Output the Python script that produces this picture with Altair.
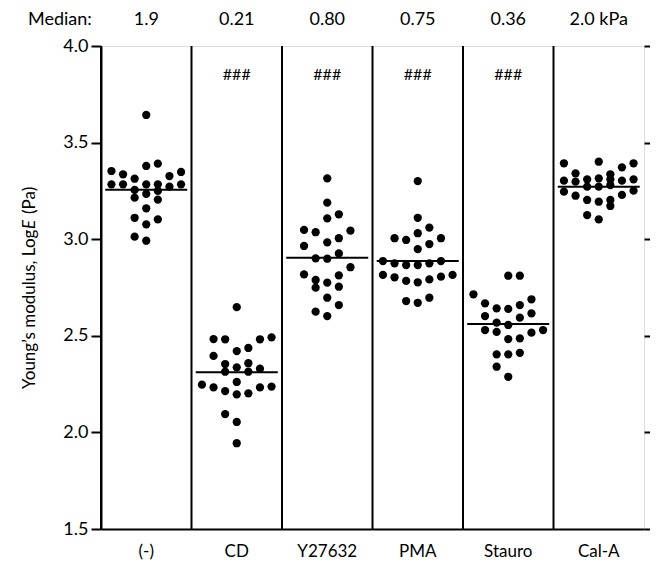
import altair as alt
import pandas as pd

groups = ["(-)", "CD", "Y27632", "PMA", "Stauro", "Cal-A"]
median_text = ["1.9", "0.21", "0.80", "0.75", "0.36", "2.0 kPa"]
median_log = [3.256, 2.311, 2.904, 2.887, 2.561, 3.272]
sig_marks = ["", "###", "###", "###", "###", ""]
y_ticks = [1.5, 2.0, 2.5, 3.0, 3.5, 4.0]

ctrl_vals = [3.643, 3.391, 3.379, 3.353, 3.348, 3.336, 3.327, 3.313, 3.284, 3.284,
             3.284, 3.284, 3.284, 3.272, 3.255, 3.250, 3.235, 3.215, 3.205, 3.160,
             3.111, 3.103, 3.077, 3.013, 2.992]
ctrl_cols = [0, 1, 0, -3, 3, -2, 2, -1, -3, -2, 0, 1, 3, 2, -1, 1, 0, -1, 1, 0,
             -1, 1, 0, -1, 0]

cd_vals = [2.648, 2.492, 2.483, 2.482, 2.482, 2.437, 2.421, 2.396, 2.358, 2.354,
           2.337, 2.330, 2.314, 2.314, 2.261, 2.247, 2.237, 2.233, 2.233, 2.214,
           2.202, 2.197, 2.095, 2.054, 1.944]
cd_cols = [0, 3, -2, -1, 2, 1, 0, -2, 1, -1, 0, 2, -1, 1, 0, -3, 3, -2, 2, -1,
           1, 0, -1, 0, 0]

y27_vals = [3.315, 3.189, 3.129, 3.108, 3.048, 3.044, 3.036, 3.005, 2.984, 2.965,
            2.927, 2.901, 2.899, 2.855, 2.818, 2.813, 2.789, 2.775, 2.754, 2.749,
            2.697, 2.659, 2.625, 2.602]
y27_cols = [0, 0, 1, 0, -2, 2, -1, 1, 0, -2, 1, -1, 0, 2, -2, 1, -1, 0, 1, -1,
            0, 1, -1, 0]

pma_vals = [3.301, 3.111, 3.060, 3.031, 3.005, 3.005, 2.996, 2.975, 2.949, 2.887,
            2.887, 2.875, 2.875, 2.866, 2.866, 2.815, 2.815, 2.806, 2.803, 2.792,
            2.784, 2.777, 2.697, 2.680, 2.671]
pma_cols = [0, 0, 1, 0, -2, 2, -1, 1, 0, -3, 2, -2, 1, -1, 0, -3, 3, 2, -2, 1,
            -1, 0, 1, -1, 0]

stauro_vals = [2.811, 2.811, 2.715, 2.689, 2.668, 2.659, 2.642, 2.639, 2.616, 2.602,
               2.594, 2.568, 2.556, 2.530, 2.530, 2.520, 2.516, 2.487, 2.483, 2.412,
               2.404, 2.404, 2.340, 2.288]
stauro_cols = [0, 1, -3, 2, -2, 1, -1, 0, 2, -2, 1, -1, 0, -2, 3, -1, 2, 1, 0, 1,
               -1, 0, -1, 0]

cala_vals = [3.401, 3.393, 3.372, 3.393, 3.341, 3.336, 3.303, 3.298, 3.310, 3.315,
             3.310, 3.303, 3.310, 3.272, 3.272, 3.280, 3.246, 3.225, 3.203, 3.194,
             3.203, 3.229, 3.251, 3.172, 3.125, 3.103]
cala_cols = [0, -3, 2, 3, -2, 1, -3, -2, -1, 0, 1, 2, 3, -1, 0, 1, -3, -2, -1, 0,
             1, 2, 3, 1, -1, 0]

all_vals = [ctrl_vals, cd_vals, y27_vals, pma_vals, stauro_vals, cala_vals]
all_cols = [ctrl_cols, cd_cols, y27_cols, pma_cols, stauro_cols, cala_cols]

rows = []
for g, vals, cols in zip(groups, all_vals, all_cols):
    for v, c in zip(vals, cols):
        rows.append({"group": g, "value": v, "col": c})
points_df = pd.DataFrame(rows)

summary_df = pd.DataFrame({
    "group": groups,
    "median": median_log,
    "mtext": median_text,
    "sig": sig_marks,
})
one_row = pd.DataFrame({"k": [0]})

W, H = 543, 483
FONT = "Lato"

xscale = alt.Scale(domain=groups, paddingInner=0, paddingOuter=0)
yscale = alt.Scale(domain=[1.5, 4.0], nice=False, zero=False)

x_axis = alt.Axis(title=None, labelFont=FONT, labelFontSize=17, labelColor="black",
                  labelPadding=14, ticks=False, domainColor="black", domainWidth=2,
                  labelAngle=0, grid=False)

points = alt.Chart(points_df).mark_circle(size=68, color="black", opacity=1).encode(
    x=alt.X("group:N", sort=groups, scale=xscale, axis=x_axis),
    xOffset=alt.XOffset("col:Q", scale=alt.Scale(domain=[-3.9, 3.9])),
    y=alt.Y("value:Q", scale=yscale,
            axis=alt.Axis(values=y_ticks, format=".1f", tickSize=10, tickWidth=2,
                          tickColor="black", domainColor="black", domainWidth=2,
                          labelFont=FONT, labelFontSize=18, labelColor="black",
                          labelPadding=3, title=None, grid=False)),
)

seps = alt.Chart(summary_df).mark_rule(color="black", strokeWidth=2).encode(
    x=alt.X("group:N", sort=groups, scale=xscale, bandPosition=0),
    y=alt.value(0),
    y2=alt.value(H),
)

medians = alt.Chart(summary_df).mark_tick(color="black", thickness=2, size=82,
                                          opacity=1).encode(
    x=alt.X("group:N", sort=groups, scale=xscale),
    y=alt.Y("median:Q", scale=yscale,
            axis=alt.Axis(orient="right", values=y_ticks, labels=False, tickSize=10,
                          tickWidth=2, tickColor="black", domain=False, title=None,
                          grid=False)),
)

mtexts = alt.Chart(summary_df).mark_text(font=FONT, fontSize=18, color="black",
                                         baseline="middle").encode(
    x=alt.X("group:N", sort=groups, scale=xscale),
    y=alt.value(-26),
    text="mtext:N",
)

sigs = alt.Chart(summary_df).mark_text(font=FONT, fontSize=16, color="black",
                                       baseline="middle").encode(
    x=alt.X("group:N", sort=groups, scale=xscale),
    y=alt.value(29),
    text="sig:N",
)

median_label = alt.Chart(one_row).mark_text(font=FONT, fontSize=18, color="black",
                                            align="left", baseline="middle").encode(
    x=alt.value(-73), y=alt.value(-26), text=alt.value("Median:"),
)

ytitle1 = alt.Chart(one_row).mark_text(font=FONT, fontSize=17, color="black",
                                       align="left", baseline="middle", angle=270).encode(
    x=alt.value(-71), y=alt.value(343), text=alt.value("Young\u2019s modulus, Log"),
)
ytitle2 = alt.Chart(one_row).mark_text(font=FONT, fontSize=17, color="black",
                                       fontStyle="italic", align="left",
                                       baseline="middle", angle=270).encode(
    x=alt.value(-71), y=alt.value(183), text=alt.value("E"),
)
ytitle3 = alt.Chart(one_row).mark_text(font=FONT, fontSize=17, color="black",
                                       align="left", baseline="middle", angle=270).encode(
    x=alt.value(-71), y=alt.value(168), text=alt.value("(Pa)"),
)

chart = alt.layer(
    points, seps, medians, mtexts, sigs, median_label, ytitle1, ytitle2, ytitle3
).resolve_axis(y="independent").properties(
    width=W, height=H,
    autosize=alt.AutoSizeParams(type="none"),
    padding={"left": 93, "top": 38, "right": 6, "bottom": 38},
).configure_view(stroke="black", strokeWidth=2).configure(font=FONT)

chart.save("out.html", embed_options={"renderer": "svg", "actions": False})
